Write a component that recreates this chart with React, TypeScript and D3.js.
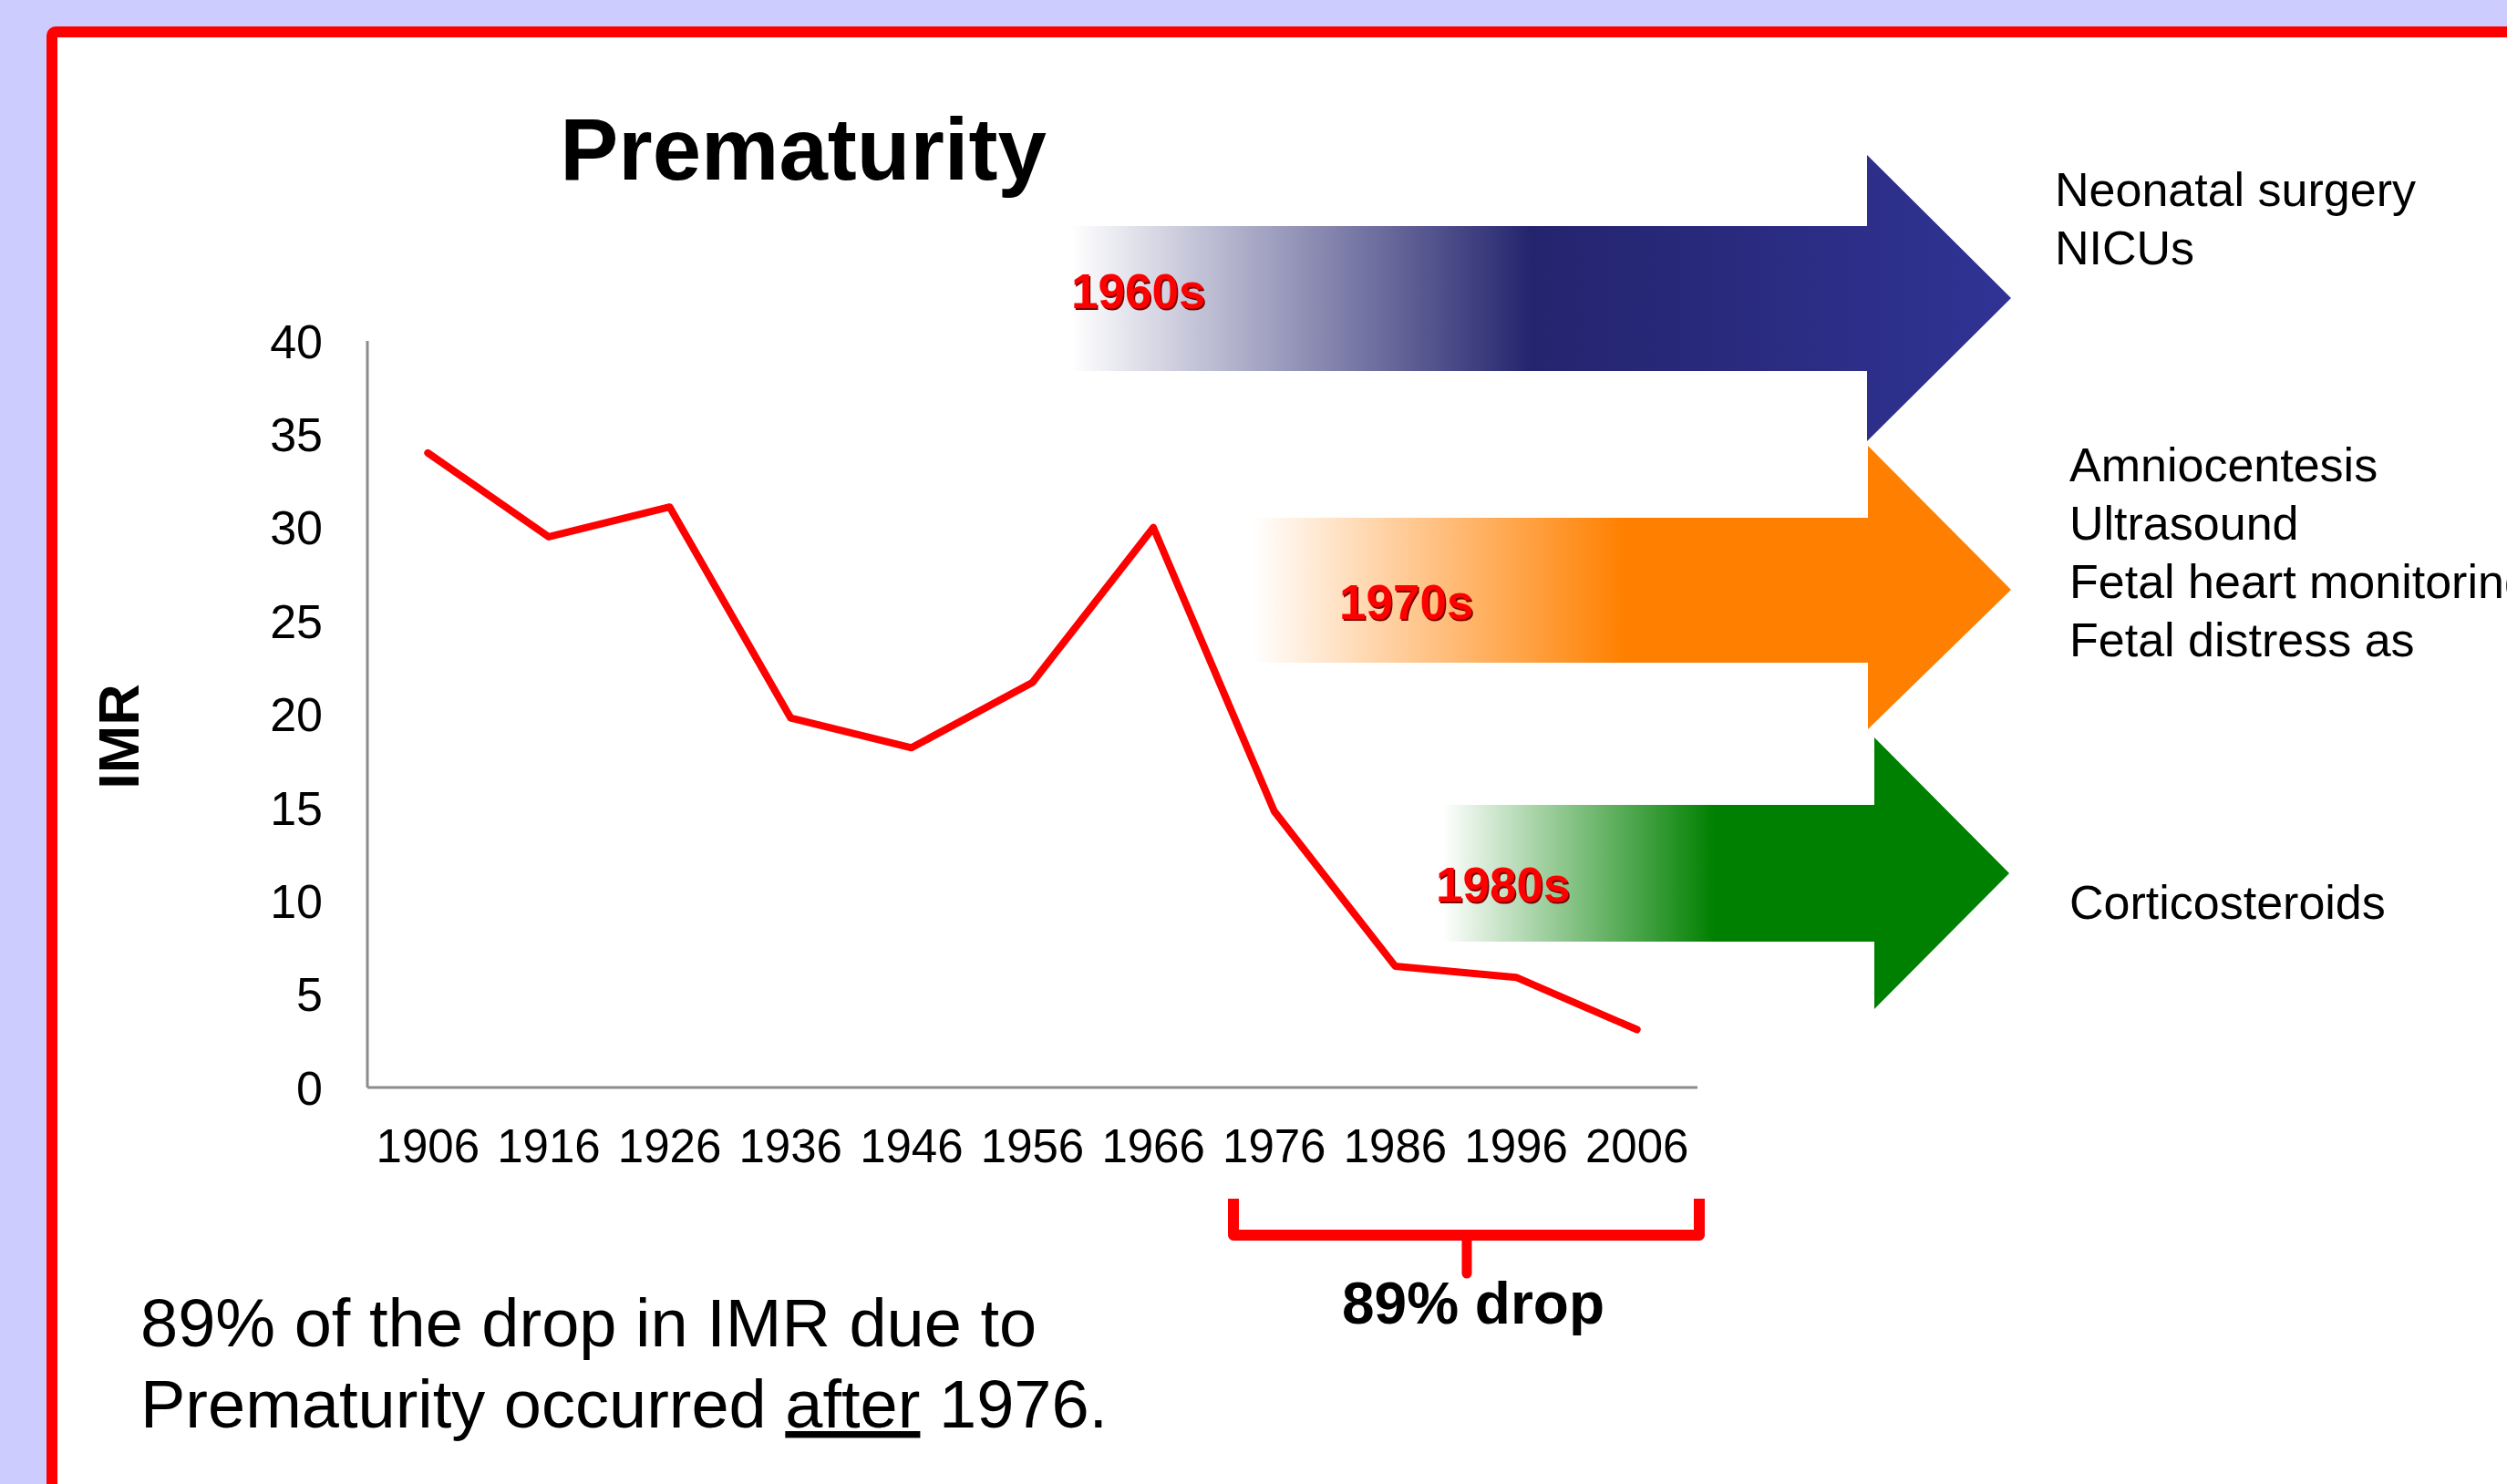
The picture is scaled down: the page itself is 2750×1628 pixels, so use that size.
import React from 'react';
import * as d3 from 'd3';

// IMR due to prematurity
const years = ['1906', '1916', '1926', '1936', '1946', '1956', '1966', '1976', '1986', '1996', '2006'];
const imrValues = [34, 29.5, 31.1, 19.8, 18.2, 21.7, 30, 14.8, 6.5, 5.9, 3.1];
const yTicks = [0, 5, 10, 15, 20, 25, 30, 35, 40];

const decadeLabels = ['1960s', '1970s', '1980s'];
const interventionLines = [
  ['Neonatal surgery', 'NICUs'],
  ['Amniocentesis', 'Ultrasound', 'Fetal heart monitoring', 'Fetal distress as'],
  ['Corticosteroids'],
];

const W = 2750;
const H = 1628;
const FONT = '"Liberation Sans", Arial, sans-serif';

// arrow geometry (body left, body top/bottom, head base, head top/bottom, tip)
const arrows = [
  { id: 'g60', color: '#24246e', end: '#303394', x0: 1175, y0: 248, y1: 407, hx: 2048, hy0: 170, hy1: 484, tx: 2206, ty: 327, stop: 0.49 },
  { id: 'g70', color: '#ff8000', end: '#ff8000', x0: 1374, y0: 568, y1: 727, hx: 2049, hy0: 489, hy1: 800, tx: 2206, ty: 647, stop: 0.49 },
  { id: 'g80', color: '#008000', end: '#008000', x0: 1582, y0: 883, y1: 1033, hx: 2056, hy0: 809, hy1: 1107, tx: 2204, ty: 958, stop: 0.48 },
];
const decadePos = [
  { x: 1175, y: 338 },
  { x: 1469, y: 679 },
  { x: 1575, y: 989 },
];
const textPos = [
  { x: 2254, y: 226 },
  { x: 2270, y: 528 },
  { x: 2270, y: 1008 },
];

export default function App() {
  const margin = { left: 403, right: W - 1862, top: 374, bottom: H - 1193 };

  const x = d3.scaleBand<string>()
    .domain(years)
    .range([margin.left, W - margin.right]);

  const y = d3.scaleLinear()
    .domain([0, 40])
    .range([H - margin.bottom, margin.top]);

  const line = d3.line<number>()
    .x((_, i) => (x(years[i]) as number) + x.bandwidth() / 2)
    .y(d => y(d));

  const bracketL = 1353;
  const bracketR = 1864;
  const bracketY = 1355;
  const bracketMid = 1609;

  return (
    <svg width={W} height={H} style={{ position: 'absolute', left: 0, top: 0 }} fontFamily={FONT}>
      <defs>
        {arrows.map(a => (
          <linearGradient key={a.id} id={a.id} gradientUnits="userSpaceOnUse" x1={a.x0} x2={a.tx} y1={0} y2={0}>
            <stop offset={0} stopColor="#ffffff" />
            <stop offset={a.stop} stopColor={a.color} />
            <stop offset={1} stopColor={a.end} />
          </linearGradient>
        ))}
      </defs>

      <rect x={0} y={0} width={W} height={H} fill="#ccccff" />
      <rect x={57} y={35} width={W} height={H} rx={4} fill="#ffffff" stroke="#ff0000" strokeWidth={12} />

      <text x={881} y={197} textAnchor="middle" fontSize={96} fontWeight="bold" fill="#000">Prematurity</text>

      {/* arrows */}
      {arrows.map(a => (
        <path
          key={a.id}
          d={`M${a.x0},${a.y0}L${a.hx},${a.y0}L${a.hx},${a.hy0}L${a.tx},${a.ty}L${a.hx},${a.hy1}L${a.hx},${a.y1}L${a.x0},${a.y1}Z`}
          fill={`url(#${a.id})`}
        />
      ))}

      {decadeLabels.map((t, i) => (
        <g key={t} fontSize={53} fontWeight="bold">
          <text x={decadePos[i].x + 1.5} y={decadePos[i].y + 1.5} fill="#7a0000">{t}</text>
          <text x={decadePos[i].x} y={decadePos[i].y} fill="#ff0000">{t}</text>
        </g>
      ))}

      {interventionLines.map((lines, i) => (
        <text key={i} x={textPos[i].x} y={textPos[i].y} fontSize={52} fill="#000">
          {lines.map((l, j) => (
            <tspan key={l} x={textPos[i].x} dy={j === 0 ? 0 : 64}>{l}</tspan>
          ))}
        </text>
      ))}

      {/* axes */}
      <line x1={margin.left} x2={margin.left} y1={y(40)} y2={y(0)} stroke="#8c8c8c" strokeWidth={3} />
      <line x1={margin.left} x2={W - margin.right} y1={y(0)} y2={y(0)} stroke="#8c8c8c" strokeWidth={3} />

      {yTicks.map(t => (
        <text key={t} x={354} y={y(t)} dy="0.36em" textAnchor="end" fontSize={52} fill="#000">{t}</text>
      ))}
      {years.map(yr => (
        <text key={yr} x={(x(yr) as number) + x.bandwidth() / 2} y={1275} textAnchor="middle" fontSize={51} fill="#000">{yr}</text>
      ))}

      <text transform="translate(152,808) rotate(-90)" textAnchor="middle" fontSize={63} fontWeight="bold" fill="#000">IMR</text>

      <path d={line(imrValues) as string} fill="none" stroke="#ff0000" strokeWidth={8} strokeLinejoin="round" strokeLinecap="round" />

      {/* bracket */}
      <path
        d={`M${bracketL},${1315}L${bracketL},${bracketY}L${bracketR},${bracketY}L${bracketR},${1315}`}
        fill="none" stroke="#ff0000" strokeWidth={12} strokeLinejoin="round"
      />
      <line x1={bracketMid} x2={bracketMid} y1={bracketY} y2={1397} stroke="#ff0000" strokeWidth={11} strokeLinecap="round" />
      <text x={1616} y={1452} textAnchor="middle" fontSize={64} fontWeight="bold" fill="#000">89% drop</text>

      <text x={154} y={1477} fontSize={74} fill="#000">89% of the drop in IMR due to</text>
      <text x={154} y={1566} fontSize={74} fill="#000">
        Prematurity occurred <tspan textDecoration="underline">after</tspan> 1976.
      </text>
    </svg>
  );
}
